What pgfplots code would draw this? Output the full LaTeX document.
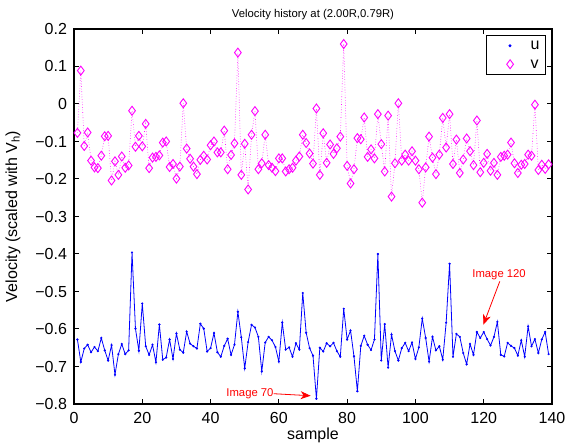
\documentclass[border=0pt]{standalone}
\usepackage{pgfplots}
\pgfplotsset{compat=1.18}
\usepackage{pgfplotstable}
\usepackage{fontspec}
\setmainfont{Liberation Sans}
\usetikzlibrary{arrows.meta}
\definecolor{mblue}{RGB}{0,0,255}
\definecolor{mmag}{RGB}{255,0,255}
\definecolor{mred}{RGB}{255,0,0}

\pgfplotstableread{
x u
1 -0.628
2 -0.688
3 -0.652
4 -0.642
5 -0.662
6 -0.648
7 -0.659
8 -0.624
9 -0.657
10 -0.684
11 -0.643
12 -0.722
13 -0.667
14 -0.640
15 -0.667
16 -0.657
17 -0.396
18 -0.599
19 -0.658
20 -0.532
21 -0.646
22 -0.669
23 -0.642
24 -0.689
25 -0.588
26 -0.682
27 -0.676
28 -0.628
29 -0.680
30 -0.612
31 -0.655
32 -0.663
33 -0.607
34 -0.639
35 -0.646
36 -0.652
37 -0.586
38 -0.599
39 -0.660
40 -0.651
41 -0.611
42 -0.662
43 -0.674
44 -0.645
45 -0.626
46 -0.669
47 -0.642
48 -0.554
49 -0.622
50 -0.705
51 -0.635
52 -0.589
53 -0.596
54 -0.621
55 -0.713
56 -0.636
57 -0.621
58 -0.630
59 -0.648
60 -0.687
61 -0.583
62 -0.655
63 -0.649
64 -0.674
65 -0.638
66 -0.655
67 -0.504
68 -0.610
69 -0.651
70 -0.671
71 -0.786
72 -0.650
73 -0.660
74 -0.638
75 -0.646
76 -0.637
77 -0.659
78 -0.674
79 -0.546
80 -0.628
81 -0.604
82 -0.673
83 -0.766
84 -0.645
85 -0.618
86 -0.642
87 -0.656
88 -0.628
89 -0.400
90 -0.684
91 -0.587
92 -0.703
93 -0.615
94 -0.659
95 -0.684
96 -0.651
97 -0.637
98 -0.659
99 -0.636
100 -0.680
101 -0.649
102 -0.572
103 -0.624
104 -0.687
105 -0.621
106 -0.657
107 -0.646
108 -0.682
109 -0.583
110 -0.426
111 -0.674
112 -0.613
113 -0.621
114 -0.664
115 -0.694
116 -0.640
117 -0.669
118 -0.608
119 -0.624
120 -0.608
121 -0.627
122 -0.644
123 -0.621
124 -0.581
125 -0.669
126 -0.673
127 -0.637
128 -0.645
129 -0.651
130 -0.671
131 -0.630
132 -0.674
133 -0.593
134 -0.646
135 -0.627
136 -0.664
137 -0.628
138 -0.608
139 -0.667
}\udata

\pgfplotstableread{
x v
1 -0.077
2 0.089
3 -0.112
4 -0.076
5 -0.151
6 -0.169
7 -0.171
8 -0.138
9 -0.086
10 -0.085
11 -0.204
12 -0.153
13 -0.189
14 -0.140
15 -0.170
16 -0.164
17 -0.018
18 -0.114
19 -0.085
20 -0.113
21 -0.053
22 -0.171
23 -0.143
24 -0.141
25 -0.137
26 -0.103
27 -0.100
28 -0.168
29 -0.160
30 -0.199
31 -0.167
32 0.002
33 -0.119
34 -0.146
35 -0.167
36 -0.187
37 -0.149
38 -0.138
39 -0.148
40 -0.110
41 -0.100
42 -0.129
43 -0.129
44 -0.071
45 -0.174
46 -0.136
47 -0.105
48 0.137
49 -0.189
50 -0.106
51 -0.228
52 -0.082
53 -0.019
54 -0.174
55 -0.158
56 -0.082
57 -0.163
58 -0.170
59 -0.179
60 -0.145
61 -0.145
62 -0.180
63 -0.174
64 -0.170
65 -0.151
66 -0.140
67 -0.082
68 -0.104
69 -0.132
70 -0.159
71 -0.012
72 -0.189
73 -0.078
74 -0.157
75 -0.108
76 -0.133
77 -0.118
78 -0.087
79 0.160
80 -0.165
81 -0.212
82 -0.174
83 -0.091
84 -0.094
85 -0.036
86 -0.141
87 -0.121
88 -0.145
89 -0.027
90 -0.107
91 -0.180
92 -0.031
93 -0.247
94 -0.158
95 0.002
96 -0.151
97 -0.135
98 -0.151
99 -0.126
100 -0.151
101 -0.174
102 -0.263
103 -0.169
104 -0.087
105 -0.143
106 -0.187
107 -0.135
108 -0.037
109 -0.116
110 -0.027
111 -0.160
112 -0.095
113 -0.184
114 -0.148
115 -0.092
116 -0.126
117 -0.163
118 -0.044
119 -0.182
120 -0.157
121 -0.133
122 -0.178
123 -0.157
124 -0.189
125 -0.141
126 -0.138
127 -0.135
128 -0.103
129 -0.158
130 -0.184
131 -0.162
132 -0.160
133 -0.135
134 -0.138
135 -0.002
136 -0.176
137 -0.162
138 -0.173
139 -0.161
}\vdata

\begin{document}
\begin{tikzpicture}
\path[use as bounding box] (-74pt,-42pt) rectangle (491pt,404pt);
\begin{axis}[
  at={(0pt,0pt)}, anchor=south west,
  scale only axis, width=478pt, height=375pt,
  xmin=0, xmax=140, ymin=-0.8, ymax=0.2,
  xtick={0,20,40,60,80,100,120,140},
  xticklabels={0,20,40,60,80,100,120,140},
  ytick={-0.8,-0.7,-0.6,-0.5,-0.4,-0.3,-0.2,-0.1,0,0.1,0.2},
  yticklabels={−0.8,−0.7,−0.6,−0.5,−0.4,−0.3,−0.2,−0.1,0,0.1,0.2},
  tick align=inside,
  major tick length=5pt,
  every tick/.style={black, line width=1pt},
  axis line style={line width=1.6pt},
  tick label style={font=\fontsize{16}{16}\selectfont},
  xticklabel style={yshift=-4.5pt},
  yticklabel style={xshift=-3.5pt},
  label style={font=\fontsize{16}{16}\selectfont},
  xlabel={sample},
  xlabel style={at={(axis description cs:0.5,-0.0827)}, anchor=center},
  ylabel={Velocity (scaled with V\textsubscript{h})},
  ylabel style={at={(axis description cs:-0.1276,0.5)}, anchor=center},
  title={Velocity history at (2.00R,0.79R)},
  title style={font=\fontsize{11.3}{11.3}\selectfont, at={(axis description cs:0.5,1)}, anchor=center, yshift=8pt},
  legend image code/.code={\path (0pt,0pt) (37pt,0pt); \draw[#1] plot coordinates {(22pt,0pt)};},
  legend style={at={(axis description cs:0.9874,0.984)}, anchor=north east,
    draw=black, line width=1pt, inner sep=1pt,
    font=\fontsize{16}{16}\selectfont,
    nodes={text height=8.5pt, text depth=0pt, inner ysep=5pt, inner xsep=5pt}},
  legend cell align=left,
]
\addplot[mblue, line width=0.8pt, forget plot] table[x=x,y=u] {\udata};
\addplot[mblue, only marks, mark=*, mark size=0.9pt] table[x=x,y=u] {\udata};
\addplot[mmag, dotted, line width=0.6pt, forget plot] table[x=x,y=v] {\vdata};
\addplot[mmag, only marks, mark=diamond, mark size=4.5pt, mark options={line width=0.9pt}] table[x=x,y=v] {\vdata};
\legend{u,v}
\node[mred, font=\fontsize{11.3}{11.3}\selectfont, anchor=east, inner sep=0pt] at (axis cs:58.5,-0.7726) {Image 70};
\draw[mred, line width=0.8pt, -{Stealth[length=10pt, width=8pt, inset=3pt]}] (axis cs:58.5,-0.7726) -- (axis cs:69.3,-0.778);
\node[mred, font=\fontsize{11.3}{11.3}\selectfont, anchor=center, inner sep=0pt] at (axis cs:124.5,-0.455) {Image 120};
\draw[mred, line width=0.8pt, -{Stealth[length=10pt, width=8pt, inset=3pt]}] (axis cs:124.7,-0.473) -- (axis cs:119.9,-0.5885);
\end{axis}
\end{tikzpicture}
\end{document}
